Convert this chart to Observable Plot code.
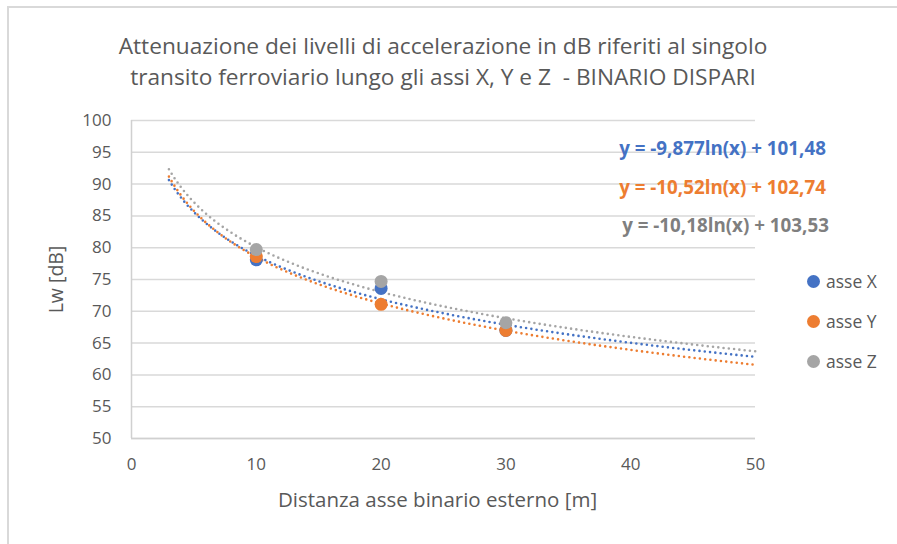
<!DOCTYPE html>
<html>
<head>
<meta charset="utf-8">
<script src="https://cdn.jsdelivr.net/npm/d3@7"></script>
<script src="https://cdn.jsdelivr.net/npm/@observablehq/plot@0.6"></script>
<style>
  html, body { margin: 0; padding: 0; background: #fff; }
  #wrap { position: relative; width: 897px; height: 544px; overflow: hidden; font-family: "Open Sans", Lato, sans-serif; }
  #border { position: absolute; left: 7px; top: 6px; width: 1000px; height: 1000px; border: 2px solid #D9D9D9; box-sizing: border-box; }
  #title { position: absolute; left: 0; width: 886px; top: 30px; text-align: center; font-size: 22.7px; line-height: 31px; color: #595959; }
  #legend { position: absolute; left: 807px; top: 261px; font-size: 17.5px; color: #595959; }
  #legend div { height: 40px; display: flex; align-items: center; }
  #legend span.sw { display: inline-block; width: 13px; height: 13px; border-radius: 50%; margin-right: 6px; }
  #chart { position: absolute; left: 0; top: 0; }
</style>
</head>
<body>
<div id="wrap">
  <div id="border"></div>
  <div id="chart"></div>
  <div id="title"></div>
  <div id="legend"></div>
</div>
<script>
const titleLines = ["Attenuazione dei livelli di accelerazione in dB riferiti al singolo",
                    "transito ferroviario lungo gli assi X, Y e Z  - BINARIO DISPARI"];
const xLabel = "Distanza asse binario esterno [m]";
const yLabel = "Lw [dB]";
const seriesNames = ["asse X", "asse Y", "asse Z"];
const colors = ["#4472C4", "#ED7D31", "#A5A5A5"];
const eqColors = ["#4472C4", "#ED7D31", "#7F7F7F"];
const distances = [10, 20, 30];
const valuesX = [78.1, 73.6, 67.0];
const valuesY = [78.6, 71.1, 67.0];
const valuesZ = [79.7, 74.7, 68.2];
// logarithmic trendlines shown on the chart: y = a ln(x) + b
const trendA = [-9.877, -10.52, -10.18];
const trendB = [101.48, 102.74, 103.53];
const equations = ["y = -9,877ln(x) + 101,48", "y = -10,52ln(x) + 102,74", "y = -10,18ln(x) + 103,53"];
const trendStart = 3, trendEnd = 50;
const xTicks = [0, 10, 20, 30, 40, 50];
const yTicks = [50, 55, 60, 65, 70, 75, 80, 85, 90, 95, 100];

const FONT = "'Open Sans', Lato, sans-serif";
const allValues = [valuesX, valuesY, valuesZ];
const points = [];
allValues.forEach((vals, s) => vals.forEach((v, i) => points.push({series: seriesNames[s], x: distances[i], y: v})));

const trend = [];
const xs = d3.range(trendStart, trendEnd + 0.001, 0.25);
seriesNames.forEach((name, s) => xs.forEach(x => trend.push({series: name, x, y: trendA[s] * Math.log(x) + trendB[s]})));

const eqDy = [28, 67, 105];
const eqDx = [-33, -33, -30];
const eqMarks = equations.map((t, i) => Plot.text([t], {
  frameAnchor: "top-right", textAnchor: "middle", lineAnchor: "middle",
  dx: eqDx[i], dy: eqDy[i], fill: eqColors[i], fontWeight: "bold", fontSize: 18.8
}));

const chart = Plot.plot({
  width: 897, height: 544,
  marginLeft: 131, marginRight: 142, marginTop: 120, marginBottom: 106,
  style: {fontFamily: FONT, background: "transparent"},
  x: {domain: [0, 50], ticks: xTicks, label: null},
  y: {domain: [50, 100], ticks: yTicks, label: null},
  color: {domain: seriesNames, range: colors},
  marks: [
    Plot.gridY(yTicks, {stroke: "#D9D9D9", strokeOpacity: 1, strokeWidth: 1.5}),
    Plot.ruleX([0], {stroke: "#D0D0D0", strokeWidth: 1.5}),
    Plot.ruleY([50], {stroke: "#D0D0D0", strokeWidth: 1.5}),
    Plot.axisY(yTicks, {tickSize: 0, tickPadding: 20, fontSize: 17, fill: "#595959", label: null}),
    Plot.axisX(xTicks, {tickSize: 0, tickPadding: 19, fontSize: 17, fill: "#595959", label: null}),
    Plot.text([yLabel], {frameAnchor: "left", textAnchor: "middle", lineAnchor: "middle", rotate: -90, dx: -75, fontSize: 19.5, fill: "#595959"}),
    Plot.text([xLabel], {frameAnchor: "bottom", textAnchor: "middle", lineAnchor: "middle", dx: -6, dy: 62, fontSize: 20.5, fill: "#595959"}),
    Plot.line(trend, {x: "x", y: "y", z: "series", stroke: "series", strokeWidth: 2.6, strokeDasharray: "0 5.3", strokeLinecap: "round"}),
    Plot.dot(points, {x: "x", y: "y", fill: "series", r: 6.5}),
    ...eqMarks
  ]
});
document.getElementById("chart").appendChild(chart);

document.getElementById("title").innerHTML = titleLines.map(l => `<div>${l.replace(/ {2}/g, " &nbsp;")}</div>`).join("");
document.getElementById("legend").innerHTML = seriesNames.map((n, i) => `<div><span class="sw" style="background:${colors[i]}"></span>${n}</div>`).join("");
</script>
</body>
</html>
